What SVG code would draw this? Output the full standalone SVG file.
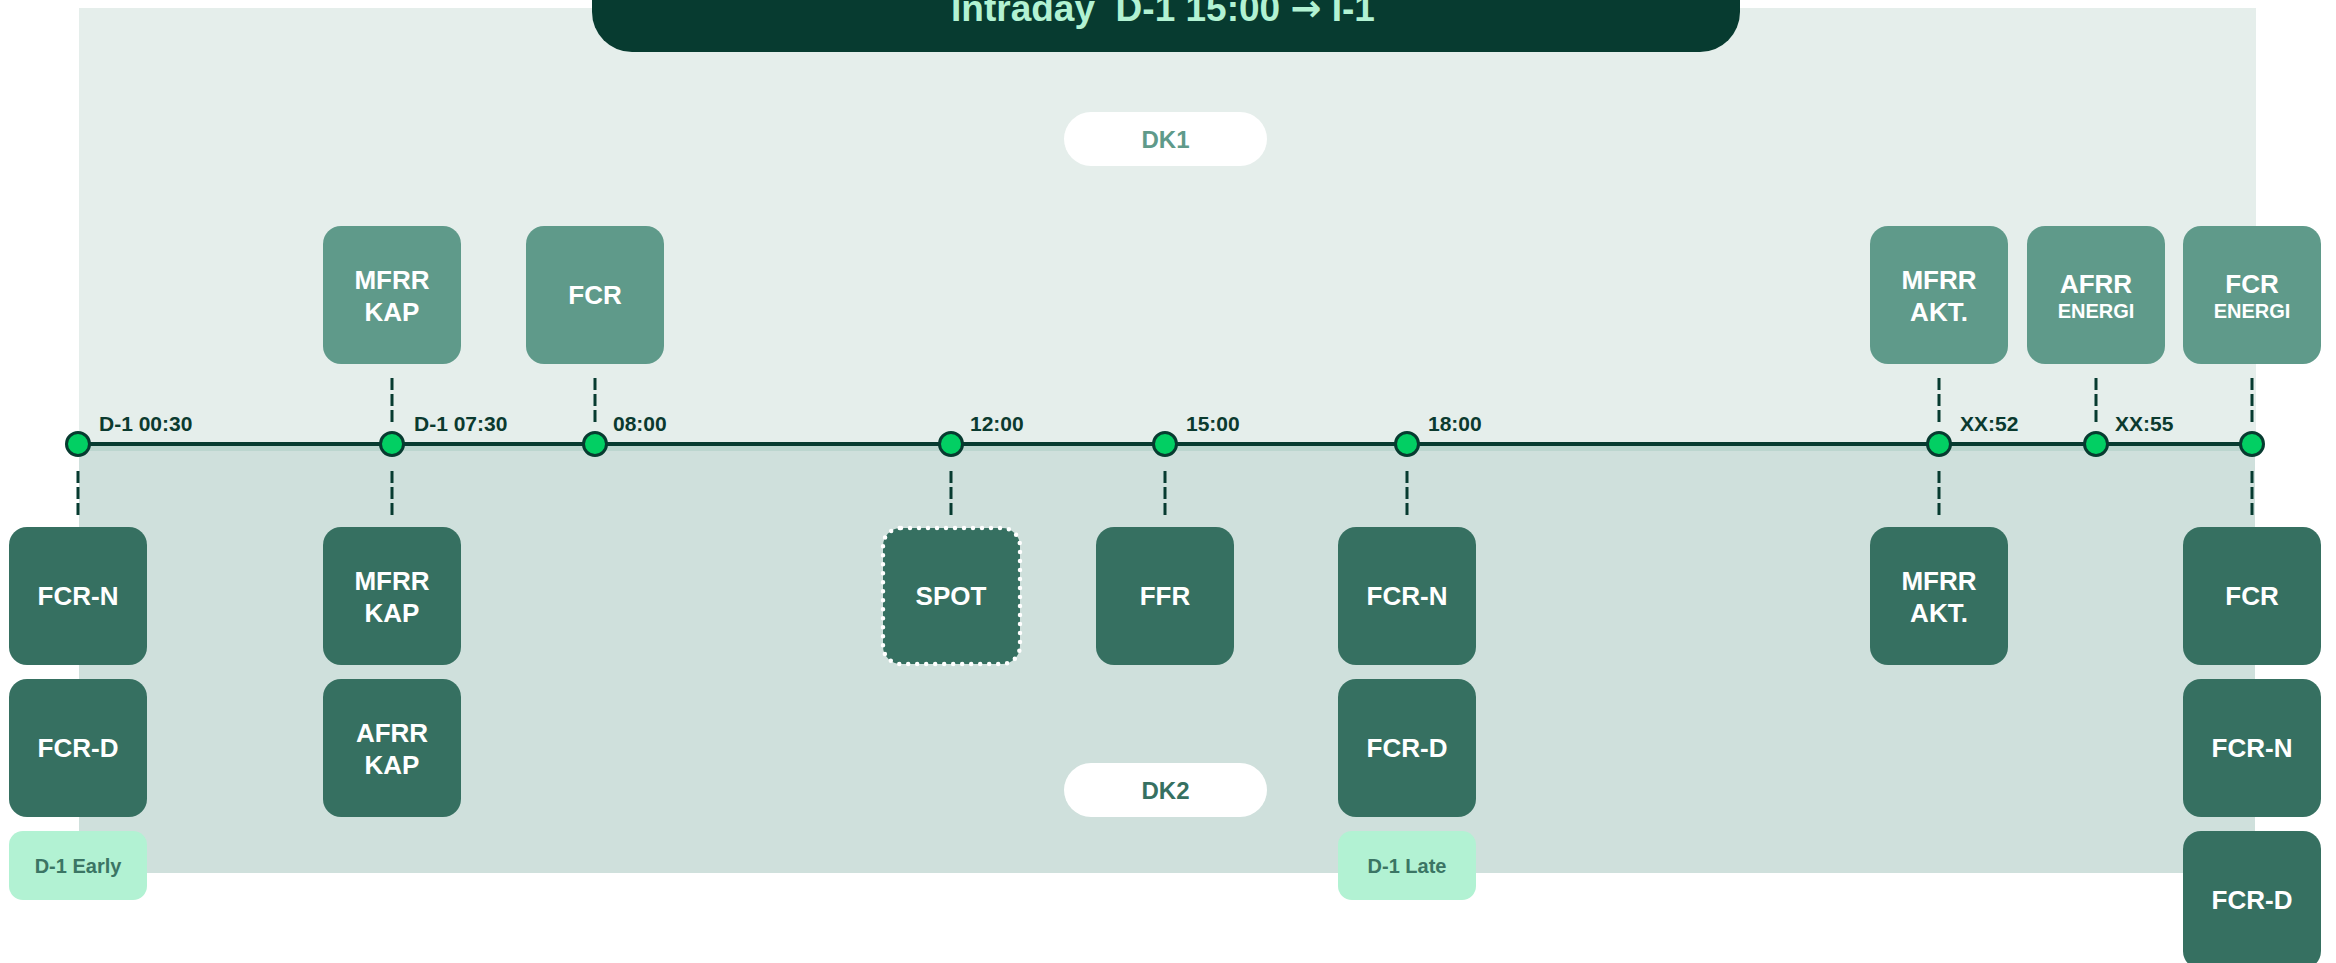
<svg xmlns="http://www.w3.org/2000/svg" width="2336" height="963" viewBox="0 0 2336 963">
<style>
text{font-family:"Liberation Sans",Arial,sans-serif;font-weight:bold}
.top{fill:#5f9a8a}
.bot{fill:#367061}
.mint{fill:#b2f2d3}
.bt{fill:#ffffff;font-size:26px;text-anchor:middle}
.sm{fill:#ffffff;font-size:20px;text-anchor:middle}
.mt{fill:#3b7564;font-size:20px;text-anchor:middle}
.tl{fill:#0b3a2f;font-size:21px}
.dash{stroke:#073b30;stroke-width:3;stroke-dasharray:12 4;fill:none}
.dot{fill:#02cf63;stroke:#073b30;stroke-width:3}
</style>
<rect x="0" y="0" width="2336" height="963" fill="#ffffff"/>
<g id="panels">
<rect x="79" y="8" width="2177" height="437" fill="#e5eeeb"/>
<rect x="79" y="444" width="2176" height="429" fill="#cfe0dc"/>
<rect x="79" y="446" width="2176" height="5" fill="#bcd6cf"/>
</g>
<g id="title">
<rect x="592" y="-60" width="1148" height="112" rx="40" fill="#073b30"/>
<text x="1163" y="21" font-size="37" text-anchor="middle" fill="#b2f2d3" xml:space="preserve">Intraday  D-1 15:00 <tspan font-family="'DejaVu Sans',sans-serif">→</tspan> I-1</text>
</g>
<g id="dk1">
<rect x="1064" y="112" width="203" height="54" rx="27" fill="#ffffff"/>
<text x="1165.5" y="148" font-size="24" text-anchor="middle" fill="#5f9a8a">DK1</text>
</g>
<g id="dk2">
<rect x="1064" y="763" width="203" height="54" rx="27" fill="#ffffff"/>
<text x="1165.5" y="799" font-size="24" text-anchor="middle" fill="#367061">DK2</text>
</g>
<g id="connectors">
<line x1="78" y1="444" x2="2252" y2="444" stroke="#073b30" stroke-width="4"/>
<path class="dash" d="M392 378V422M595 378V422M1939 378V422M2096 378V422M2252 378V422"/>
<path class="dash" d="M78 471V515M392 471V515M951 471V515M1165 471V515M1407 471V515M1939 471V515M2252 471V515"/>
</g>
<g id="timeline-points">
<circle class="dot" cx="78" cy="444" r="11.5"/>
<circle class="dot" cx="392" cy="444" r="11.5"/>
<circle class="dot" cx="595" cy="444" r="11.5"/>
<circle class="dot" cx="951" cy="444" r="11.5"/>
<circle class="dot" cx="1165" cy="444" r="11.5"/>
<circle class="dot" cx="1407" cy="444" r="11.5"/>
<circle class="dot" cx="1939" cy="444" r="11.5"/>
<circle class="dot" cx="2096" cy="444" r="11.5"/>
<circle class="dot" cx="2252" cy="444" r="11.5"/>
</g>
<g id="time-labels">
<text class="tl" x="99" y="431">D-1 00:30</text>
<text class="tl" x="414" y="431">D-1 07:30</text>
<text class="tl" x="613" y="431">08:00</text>
<text class="tl" x="970" y="431">12:00</text>
<text class="tl" x="1186" y="431">15:00</text>
<text class="tl" x="1428" y="431">18:00</text>
<text class="tl" x="1960" y="431">XX:52</text>
<text class="tl" x="2115" y="431">XX:55</text>
</g>
<g id="dk1-mfrr-kap"><rect class="top" x="323" y="226" width="138" height="138" rx="18"/><text class="bt" x="392" y="289">MFRR</text><text class="bt" x="392" y="321">KAP</text></g>
<g id="dk1-fcr"><rect class="top" x="526" y="226" width="138" height="138" rx="18"/><text class="bt" x="595" y="304">FCR</text></g>
<g id="dk1-mfrr-akt"><rect class="top" x="1870" y="226" width="138" height="138" rx="18"/><text class="bt" x="1939" y="289">MFRR</text><text class="bt" x="1939" y="321">AKT.</text></g>
<g id="dk1-afrr-energi"><rect class="top" x="2027" y="226" width="138" height="138" rx="18"/><text class="bt" x="2096" y="293">AFRR</text><text class="sm" x="2096" y="318">ENERGI</text></g>
<g id="dk1-fcr-energi"><rect class="top" x="2183" y="226" width="138" height="138" rx="18"/><text class="bt" x="2252" y="293">FCR</text><text class="sm" x="2252" y="318">ENERGI</text></g>
<g id="dk2-fcr-n-early"><rect class="bot" x="9" y="527" width="138" height="138" rx="18"/><text class="bt" x="78" y="605">FCR-N</text></g>
<g id="dk2-fcr-d-early"><rect class="bot" x="9" y="679" width="138" height="138" rx="18"/><text class="bt" x="78" y="757">FCR-D</text></g>
<g id="d1-early"><rect class="mint" x="9" y="831" width="138" height="69" rx="14"/><text class="mt" x="78" y="873">D-1 Early</text></g>
<g id="dk2-mfrr-kap"><rect class="bot" x="323" y="527" width="138" height="138" rx="18"/><text class="bt" x="392" y="590">MFRR</text><text class="bt" x="392" y="622">KAP</text></g>
<g id="dk2-afrr-kap"><rect class="bot" x="323" y="679" width="138" height="138" rx="18"/><text class="bt" x="392" y="742">AFRR</text><text class="bt" x="392" y="774">KAP</text></g>
<g id="spot"><rect class="bot" x="883" y="528" width="137" height="136" rx="18" stroke="#ffffff" stroke-width="4.5" stroke-dasharray="0 9" stroke-linecap="round"/><text class="bt" x="951" y="605">SPOT</text></g>
<g id="dk2-ffr"><rect class="bot" x="1096" y="527" width="138" height="138" rx="18"/><text class="bt" x="1165" y="605">FFR</text></g>
<g id="dk2-fcr-n-late"><rect class="bot" x="1338" y="527" width="138" height="138" rx="18"/><text class="bt" x="1407" y="605">FCR-N</text></g>
<g id="dk2-fcr-d-late"><rect class="bot" x="1338" y="679" width="138" height="138" rx="18"/><text class="bt" x="1407" y="757">FCR-D</text></g>
<g id="d1-late"><rect class="mint" x="1338" y="831" width="138" height="69" rx="14"/><text class="mt" x="1407" y="873">D-1 Late</text></g>
<g id="dk2-mfrr-akt"><rect class="bot" x="1870" y="527" width="138" height="138" rx="18"/><text class="bt" x="1939" y="590">MFRR</text><text class="bt" x="1939" y="622">AKT.</text></g>
<g id="dk2-fcr"><rect class="bot" x="2183" y="527" width="138" height="138" rx="18"/><text class="bt" x="2252" y="605">FCR</text></g>
<g id="dk2-fcr-n"><rect class="bot" x="2183" y="679" width="138" height="138" rx="18"/><text class="bt" x="2252" y="757">FCR-N</text></g>
<g id="dk2-fcr-d"><rect class="bot" x="2183" y="831" width="138" height="138" rx="18"/><text class="bt" x="2252" y="909">FCR-D</text></g>
</svg>
